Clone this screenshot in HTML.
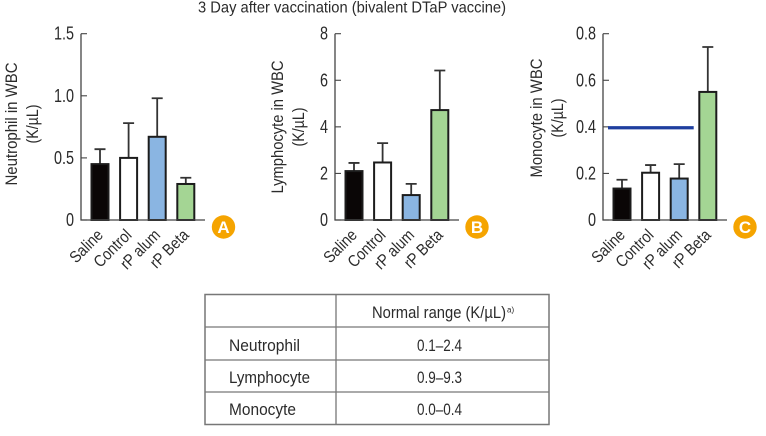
<!DOCTYPE html>
<html lang="en">
<head>
<meta charset="utf-8">
<title>3 Day after vaccination</title>
<style>
html,body{margin:0;padding:0;background:#fff;width:766px;height:436px;overflow:hidden}
svg{display:block;font-family:"Liberation Sans",sans-serif;fill:#2b2b2b}
</style>
</head>
<body>
<svg id="figure" width="766" height="436" viewBox="0 0 766 436" xmlns="http://www.w3.org/2000/svg">
  <text id="main-title" x="198" y="12.5" font-size="16" textLength="308" lengthAdjust="spacingAndGlyphs">3 Day after vaccination (bivalent DTaP vaccine)</text>
  <g id="charts"></g>
  <g id="range-table">
    <rect x="205" y="294.5" width="344" height="130" fill="none" stroke="#777" stroke-width="1.5"/>
    <line x1="336" y1="294.5" x2="336" y2="424.5" stroke="#777" stroke-width="1.3"/>
    <line x1="205" y1="327" x2="549" y2="327" stroke="#777" stroke-width="1.3"/>
    <line x1="205" y1="360" x2="549" y2="360" stroke="#777" stroke-width="1.3"/>
    <line x1="205" y1="392" x2="549" y2="392" stroke="#777" stroke-width="1.3"/>
    <text x="372" y="318" font-size="17" textLength="134" lengthAdjust="spacingAndGlyphs">Normal range (K/µL)</text>
    <text x="507" y="312.5" font-size="8">a)</text>
    <text x="229" y="351" font-size="17" textLength="71" lengthAdjust="spacingAndGlyphs">Neutrophil</text>
    <text x="417" y="351" font-size="17" textLength="45" lengthAdjust="spacingAndGlyphs">0.1–2.4</text>
    <text x="229" y="383" font-size="17" textLength="81" lengthAdjust="spacingAndGlyphs">Lymphocyte</text>
    <text x="417" y="383" font-size="17" textLength="45" lengthAdjust="spacingAndGlyphs">0.9–9.3</text>
    <text x="229" y="415" font-size="17" textLength="67" lengthAdjust="spacingAndGlyphs">Monocyte</text>
    <text x="417" y="415" font-size="17" textLength="45" lengthAdjust="spacingAndGlyphs">0.0–0.4</text>
  </g>
</svg>
<script>
// Chart data
const categories = ['Saline', 'Control', 'rP alum', 'rP Beta'];
const neutrophilMeans = [0.45, 0.5, 0.67, 0.29];
const neutrophilErrorTops = [0.57, 0.78, 0.98, 0.34];
const neutrophilTicks = ['0', '0.5', '1.0', '1.5'];
const lymphocyteMeans = [2.1, 2.47, 1.07, 4.72];
const lymphocyteErrorTops = [2.45, 3.3, 1.55, 6.42];
const lymphocyteTicks = ['0', '2', '4', '6', '8'];
const monocyteMeans = [0.135, 0.203, 0.178, 0.55];
const monocyteErrorTops = [0.173, 0.236, 0.24, 0.743];
const monocyteTicks = ['0', '0.2', '0.4', '0.6', '0.8'];
const monocyteNormalLimit = [0.396];

const NS = 'http://www.w3.org/2000/svg';
const root = document.getElementById('charts');
const barColors = ['#0a0606', '#ffffff', '#8ab5e2', '#a4d594'];
const barNames = ['saline', 'control', 'rp-alum', 'rp-beta'];

function make(parent, tag, attrs, text) {
  const el = document.createElementNS(NS, tag);
  for (const k in attrs) el.setAttribute(k, attrs[k]);
  if (text !== undefined) el.textContent = text;
  parent.appendChild(el);
  return el;
}
function squeeze(el, factor) {
  el.setAttribute('textLength', (el.getComputedTextLength() * factor).toFixed(1));
  el.setAttribute('lengthAdjust', 'spacingAndGlyphs');
}

function drawChart(cfg) {
  const g = make(root, 'g', {});
  
  

  const y0 = 220, yTop = 33.7;
  const yMax = Number(cfg.ticks[cfg.ticks.length - 1]);
  const yScale = v => y0 - (v / yMax) * (y0 - yTop);
  const xScale = i => cfg.axisX + 19 + i * 28.6;

  cfg.means.forEach((m, i) => {
    const cx = xScale(i);
    const err = make(g, 'path', {
      d: 'M' + cx + ' ' + yScale(m) + 'V' + yScale(cfg.tops[i]) + 'M' + (cx - 5.5) + ' ' + yScale(cfg.tops[i]) + 'H' + (cx + 5.5),
      fill: 'none', stroke: '#333', 'stroke-width': 1.8
    });
    
    
    const bar = make(g, 'rect', {
      x: cx - 8.5, y: yScale(m), width: 17, height: y0 - yScale(m),
      fill: barColors[i], stroke: '#1c1c1c', 'stroke-width': 2
    });
    
    
  });

  const axes = make(g, 'path', {
    d: 'M' + cfg.axisX + ' ' + yTop + 'V' + y0 + 'H' + (cfg.axisX + 124),
    fill: 'none', stroke: '#444', 'stroke-width': 1.3
  });
  
  

  cfg.ticks.forEach(label => {
    const y = yScale(Number(label));
    const tick = make(g, 'line', { x1: cfg.axisX, x2: cfg.axisX + 6, y1: y, y2: y, stroke: '#444', 'stroke-width': 1.1 });
    
    
    const t = make(g, 'text', { x: cfg.axisX - 7, y: y + 6, 'font-size': 18, 'text-anchor': 'end' }, label);
    
    
    squeeze(t, 0.8);
  });

  categories.forEach((c, i) => {
    const px = xScale(i) + 4, py = 236;
    const t = make(g, 'text', {
      x: px, y: py, 'font-size': 16.5, 'text-anchor': 'end',
      transform: 'rotate(-45 ' + px + ' ' + py + ')'
    }, c);
    
    
    squeeze(t, 0.86);
  });

  const tx = cfg.titleX, ty = cfg.titleY;
  const title = make(g, 'text', {
    x: tx, y: ty, 'font-size': 16.5, 'text-anchor': 'middle',
    transform: 'rotate(-90 ' + tx + ' ' + ty + ')'
  }, cfg.title);
  
  
  title.setAttribute('textLength', cfg.titleLen);
  title.setAttribute('lengthAdjust', 'spacingAndGlyphs');
  const ux = tx + 21;
  const unit = make(g, 'text', {
    x: ux, y: ty, 'font-size': 16.5, 'text-anchor': 'middle',
    transform: 'rotate(-90 ' + ux + ' ' + ty + ')'
  }, '(K/µL)');
  
  
  squeeze(unit, 0.86);

  const badge = make(g, 'circle', { cx: cfg.badgeX, cy: 227, r: 11.7, fill: '#f5a400' });
  
  
  const letter = make(g, 'text', {
    x: cfg.badgeX, y: 233, 'font-size': 17, 'font-weight': 'bold', 'text-anchor': 'middle', style: 'fill:#fff'
  }, cfg.letter);
  
  

  return { g, xScale, yScale };
}

drawChart({ key: 'neutrophil', axisX: 81, means: neutrophilMeans, tops: neutrophilErrorTops, ticks: neutrophilTicks,
  title: 'Neutrophil in WBC', titleX: 17, titleY: 124, titleLen: 123, badgeX: 223.5, letter: 'A' });
drawChart({ key: 'lymphocyte', axisX: 335, means: lymphocyteMeans, tops: lymphocyteErrorTops, ticks: lymphocyteTicks,
  title: 'Lymphocyte in WBC', titleX: 283, titleY: 127, titleLen: 133, badgeX: 477, letter: 'B' });
const monoChart = drawChart({ key: 'monocyte', axisX: 603, means: monocyteMeans, tops: monocyteErrorTops, ticks: monocyteTicks,
  title: 'Monocyte in WBC', titleX: 542, titleY: 118, titleLen: 119, badgeX: 745, letter: 'C' });

const limitLine = make(monoChart.g, 'line', {
  x1: monoChart.xScale(0) - 14, x2: monoChart.xScale(2) + 14.5,
  y1: monoChart.yScale(monocyteNormalLimit[0]), y2: monoChart.yScale(monocyteNormalLimit[0]),
  stroke: '#1f3f9f', 'stroke-width': 3.2
});


</script>
</body>
</html>
